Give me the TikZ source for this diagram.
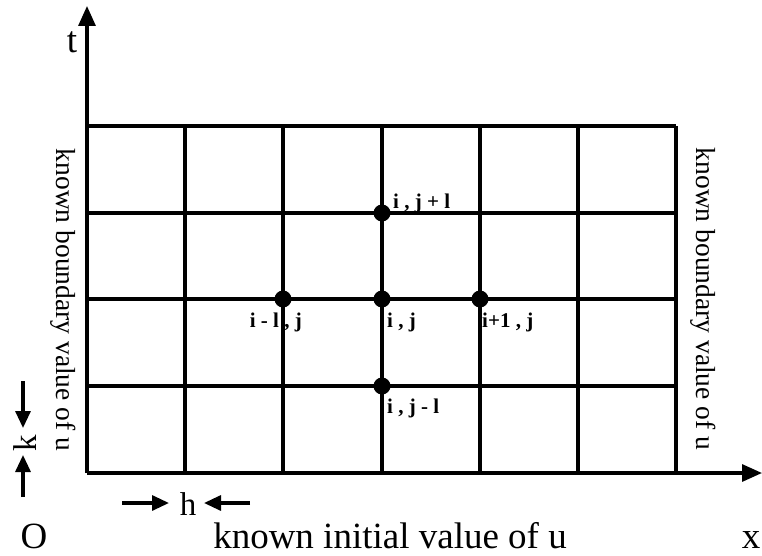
\documentclass[tikz,border=0pt]{standalone}
\usepackage{fontspec}
\setmainfont{Liberation Serif}
\usetikzlibrary{arrows.meta}
\tikzset{
  gridline/.style={line width=3.2pt},
  axis/.style={line width=3.2pt,-{Triangle[length=20pt,width=17pt]}},
  dimarrow/.style={line width=3.2pt,-{Triangle[length=17pt,width=15pt]}},
  dot/.style={circle,fill=black,inner sep=0pt,minimum size=17pt},
  lbl/.style={font=\fontsize{21}{23}\selectfont\bfseries,inner sep=0pt},
  bigtxt/.style={font=\fontsize{37}{40}\selectfont,inner sep=0pt},
  sidetxt/.style={font=\fontsize{27.5}{30}\selectfont,inner sep=0pt,rotate=-90}
}
\begin{document}
\begin{tikzpicture}[x=1pt,y=-1pt]
\useasboundingbox (0,0) rectangle (762,556);
% origin and axes
\coordinate (O) at (87,473);
\coordinate (tend) at (87,6);
\coordinate (xend) at (762,473);
% grid
\foreach \x in {87,185,283,382,480,578,676} {
  \draw[gridline] (\x,126) -- (\x,473);
}
\foreach \y in {126,213,299,386} {
  \draw[gridline] (87,\y) -- (676,\y);
}
\draw[axis] (O) -- (tend);
\draw[axis] (O) -- (xend);
% dots
\node[dot] (up) at (382,213) {};
\node[dot] (left) at (283,299) {};
\node[dot] (mid) at (382,299) {};
\node[dot] (right) at (480,299) {};
\node[dot] (down) at (382,386) {};
% labels
\node[lbl,anchor=base west] (lup) at (393,208) {i , j + l};
\node[lbl,anchor=base east] (lleft) at (302,327) {i - l , j};
\node[lbl,anchor=base west] (lmid) at (387,327) {i , j};
\node[lbl,anchor=base west] (lright) at (482,327) {i+1 , j};
\node[lbl,anchor=base west] (ldown) at (387,413) {i , j - l};
% axis labels
\node[bigtxt,anchor=base] (tl) at (72,53) {t};
\node[bigtxt,anchor=base] (ol) at (34,548) {O};
\node[bigtxt,anchor=base] (xl) at (751,548) {x};
\node[bigtxt,anchor=base] (init) at (390,548) {known initial value of u};
% side texts
\node[sidetxt] (bl) at (63,300) {known boundary value of u};
\node[sidetxt] (br) at (703,299) {known boundary value of u};
% h
\node[font=\fontsize{33}{35}\selectfont,inner sep=0pt,anchor=base] (h) at (188,515) {h};
\coordinate (h1) at (122,503);
\coordinate (h2) at (169,503);
\coordinate (h3) at (250,503);
\coordinate (h4) at (204,503);
\draw[dimarrow] (h1) -- (h2);
\draw[dimarrow] (h3) -- (h4);
% k
\node[font=\fontsize{33}{35}\selectfont,inner sep=0pt,rotate=90] (k) at (25,443) {k};
\coordinate (k1) at (23,381);
\coordinate (k2) at (23,428);
\coordinate (k3) at (23,497);
\coordinate (k4) at (23,455);
\draw[dimarrow] (k1) -- (k2);
\draw[dimarrow] (k3) -- (k4);
\end{tikzpicture}
\end{document}
